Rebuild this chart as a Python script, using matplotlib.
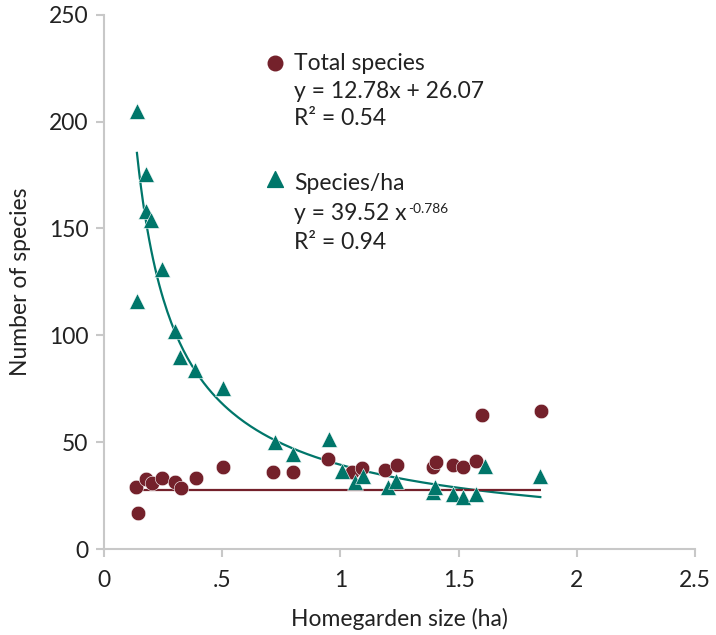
import numpy as np
import matplotlib
matplotlib.use("Agg")
import matplotlib.pyplot as plt

plt.rcParams['font.family'] = ['Lato', 'DejaVu Sans']

# total species per homegarden
size_total = [0.135, 0.144, 0.178, 0.203, 0.245, 0.30, 0.325, 0.389, 0.503, 0.715,
              0.80, 0.947, 1.049, 1.09, 1.19, 1.24, 1.39, 1.404, 1.476, 1.518,
              1.573, 1.60, 1.848]
total_species = [29, 17, 33, 31, 33.3, 31.5, 28.6, 33.3, 38.5, 36,
                 36, 42.3, 36, 38, 37, 39.4, 38.5, 40.8, 39.4, 38.5,
                 41.3, 62.9, 64.8]

# species per ha
size_ha = [0.14, 0.178, 0.18, 0.199, 0.14, 0.245, 0.30, 0.32, 0.385, 0.503,
           0.723, 0.80, 0.95, 1.006, 1.06, 1.095, 1.20, 1.235, 1.39, 1.40,
           1.476, 1.52, 1.575, 1.61, 1.845]
species_ha = [205, 175.6, 158, 154, 116, 131, 102, 90, 84, 75.6,
              50, 44.6, 51.6, 36.6, 31.5, 34.3, 29, 32, 27, 29,
              26, 24.4, 26, 39, 34.3]

# trend lines as drawn
flat_level = 27.7
pow_a, pow_b = 39.52, -0.786

red = '#74212b'
green = '#00766a'
grey = '#c8c8c8'
ink = '#222222'

fig = plt.figure(figsize=(7.16, 6.35), dpi=100)
ax = fig.add_axes([0.145, 0.135, 0.826, 0.842])

xs = np.linspace(min(size_ha), max(size_ha), 200)
ax.plot(xs, pow_a * xs ** pow_b, color=green, lw=1.6, zorder=2)
ax.hlines(flat_level, min(size_total), max(size_total), color=red, lw=1.6, zorder=2)

ax.scatter(size_total, total_species, s=110, marker='o', color=red,
           edgecolor='white', linewidth=0.4, zorder=3)
ax.scatter(size_ha, species_ha, s=130, marker='^', color=green,
           edgecolor='white', linewidth=0.4, zorder=3)

ax.set_xlim(0, 2.5)
ax.set_ylim(0, 250)
ax.set_xticks([0, 0.5, 1, 1.5, 2, 2.5])
ax.set_xticklabels(['0', '.5', '1', '1.5', '2', '2.5'])
ax.set_yticks([0, 50, 100, 150, 200, 250])

for s in ['top', 'right']:
    ax.spines[s].set_visible(False)
for s in ['left', 'bottom']:
    ax.spines[s].set_color(grey)
    ax.spines[s].set_linewidth(1.5)
fs = 16.5
ax.tick_params(colors=grey, labelcolor=ink, labelsize=fs, length=6, width=1.5)
ax.tick_params(axis='x', pad=9)
ax.tick_params(axis='y', pad=5)

ax.set_xlabel('Homegarden size (ha)', fontsize=fs, color=ink, labelpad=12)
ax.set_ylabel('Number of species', fontsize=fs, color=ink, labelpad=13)

# legend block
ax.scatter([0.725], [227.2], s=110, marker='o', color=red, zorder=3, clip_on=False)
ax.text(0.805, 227.2, 'Total species', fontsize=fs, va='center', color=ink)
ax.text(0.805, 214.2, 'y = 12.78x + 26.07', fontsize=fs, va='center', color=ink)
ax.text(0.805, 201.5, 'R\u00b2 = 0.54', fontsize=fs, va='center', color=ink)

ax.scatter([0.725], [173], s=130, marker='^', color=green, zorder=3, clip_on=False)
ax.text(0.805, 171.2, 'Species/ha', fontsize=fs, va='center', color=ink)
eq = ax.text(0.805, 157.2, 'y = 39.52 x', fontsize=fs, va='center', color=ink)
ax.text(0.805, 143.5, 'R\u00b2 = 0.94', fontsize=fs, va='center', color=ink)

# exponent as a small raised text after the equation
fig.canvas.draw()
bb = eq.get_window_extent()
ax.annotate('-0.786', xy=(bb.x1, bb.y1), xycoords='figure pixels',
            xytext=(1, -9), textcoords='offset points',
            fontsize=fs * 0.6, color=ink, va='bottom', ha='left')

fig.savefig('out.png', dpi=100)
